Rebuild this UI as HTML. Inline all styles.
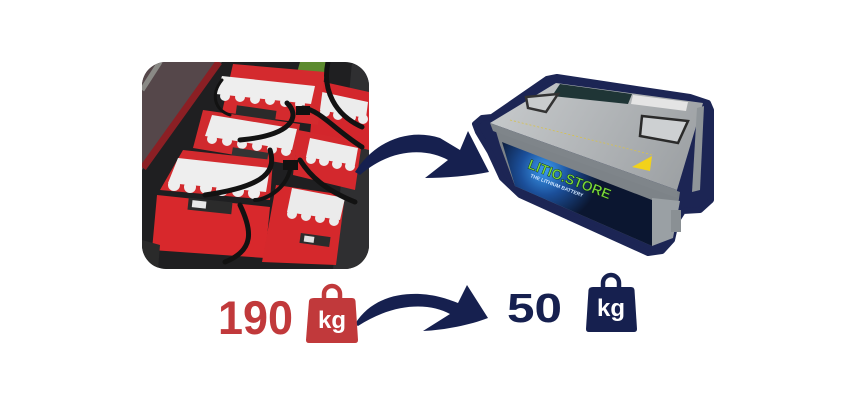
<!DOCTYPE html>
<html><head><meta charset="utf-8"><style>
html,body{margin:0;padding:0;background:#fff;}
svg{display:block;}
</style></head><body>
<svg width="850" height="400" viewBox="0 0 850 400" xmlns="http://www.w3.org/2000/svg">
<defs>
<clipPath id="c1"><rect x="142" y="62" width="227" height="207" rx="24"/></clipPath>
<radialGradient id="glow" cx="545" cy="170" r="55" gradientUnits="userSpaceOnUse">
<stop offset="0" stop-color="#3c9cf0"/><stop offset="0.45" stop-color="#1b4f9a"/><stop offset="1" stop-color="#0b1630"/>
</radialGradient>
<linearGradient id="lid" x1="520" y1="90" x2="680" y2="185" gradientUnits="userSpaceOnUse">
<stop offset="0" stop-color="#c3c6c8"/><stop offset="1" stop-color="#9da1a4"/>
</linearGradient>
</defs>
<rect width="850" height="400" fill="#fff"/>

<!-- Left photo -->
<g clip-path="url(#c1)">
<rect x="142" y="62" width="227" height="207" fill="#1f1f21"/>
<polygon points="142,62 222,62 142,170" fill="#55474a"/>
<line x1="160" y1="62" x2="142" y2="90" stroke="#8a8a86" stroke-width="5"/>
<line x1="219" y1="62" x2="143" y2="168" stroke="#8b1f24" stroke-width="7"/>
<polygon points="300,62 326,62 326,78 296,76" fill="#5c8a2e"/>
<polygon points="352,62 369,62 369,270 333,270" fill="#2f2f31"/>
<!-- battery 4 -->
<polygon points="315,80 369,92 369,150 310,135" fill="#d3262c"/>
<polygon points="322,92 368,102 366,118 319,110" fill="#ececec"/>
<g fill="#ececec"><circle cx="325" cy="112" r="5"/><circle cx="338" cy="115" r="5"/><circle cx="351" cy="117" r="5"/><circle cx="363" cy="119" r="5"/></g>
<!-- battery 1 -->
<polygon points="233,64 325,72 318,125 222,112" fill="#d42a2e"/>
<polygon points="222,76 315,86 311,104 216,94" fill="#eeeeee"/>
<g fill="#eeeeee"><circle cx="225" cy="96" r="5"/><circle cx="240" cy="97" r="5"/><circle cx="255" cy="99" r="5"/><circle cx="270" cy="100" r="5"/><circle cx="285" cy="102" r="5"/><circle cx="300" cy="104" r="5"/></g>
<rect x="236" y="108" width="40" height="10" fill="#2a2a2a" transform="rotate(8 256 113)"/>
<!-- battery 2 -->
<polygon points="203,110 300,124 294,165 193,148" fill="#d02a2e"/>
<polygon points="212,115 297,129 292,150 205,136" fill="#ededed"/>
<g fill="#ededed"><circle cx="212" cy="139" r="5"/><circle cx="227" cy="141" r="5"/><circle cx="242" cy="144" r="5"/><circle cx="257" cy="146" r="5"/><circle cx="272" cy="149" r="5"/><circle cx="286" cy="151" r="5"/></g>
<rect x="232" y="150" width="36" height="9" fill="#333" transform="rotate(9 250 154)"/>
<!-- battery 5 -->
<polygon points="298,130 362,142 355,190 293,175" fill="#d3282d"/>
<polygon points="310,138 358,148 355,165 306,157" fill="#ececec"/>
<g fill="#ececec"><circle cx="311" cy="159" r="5"/><circle cx="324" cy="161" r="5"/><circle cx="337" cy="164" r="5"/><circle cx="350" cy="166" r="5"/></g>
<!-- battery 3 -->
<polygon points="183,150 273,160 270,200 160,190" fill="#d22a2e"/>
<polygon points="178,158 270,168 266,192 168,183" fill="#eeeeee"/>
<g fill="#eeeeee"><circle cx="174" cy="185" r="6"/><circle cx="190" cy="187" r="6"/><circle cx="206" cy="188" r="6"/><circle cx="222" cy="190" r="6"/><circle cx="238" cy="191" r="6"/><circle cx="254" cy="193" r="6"/></g>
<polygon points="157,195 270,207 265,258 152,250" fill="#d8282c"/>
<rect x="188" y="200" width="44" height="12" fill="#2b2b2b" transform="rotate(6 210 206)"/>
<rect x="192" y="202" width="14" height="7" fill="#e8e8e8" transform="rotate(6 210 206)"/>
<!-- battery 6 -->
<polygon points="276,185 345,195 336,265 262,262" fill="#d5282c"/>
<polygon points="292,188 345,198 340,220 287,212" fill="#ebebeb"/>
<g fill="#ebebeb"><circle cx="292" cy="214" r="5"/><circle cx="306" cy="216" r="5"/><circle cx="320" cy="218" r="5"/><circle cx="334" cy="221" r="5"/></g>
<rect x="300" y="235" width="30" height="10" fill="#2b2b2b" transform="rotate(8 315 240)"/>
<rect x="304" y="237" width="10" height="6" fill="#e0e0e0" transform="rotate(8 315 240)"/>
<polygon points="142,240 160,245 158,270 142,270" fill="#2a2a2a"/>
<!-- cables -->
<g fill="none" stroke="#121212" stroke-width="5" stroke-linecap="round">
<path d="M287 103 C300 115 295 135 240 140"/>
<path d="M303 108 C320 110 335 130 362 147"/>
<path d="M270 150 C276 170 268 186 205 195"/>
<path d="M300 160 C310 176 325 190 355 202"/>
<path d="M240 205 C252 230 255 250 225 262"/>
<path d="M328 62 C322 90 335 115 362 127"/>
<path d="M222 80 C210 95 215 110 230 115" stroke-width="3"/>
<path d="M290 170 C285 190 265 200 255 200" stroke-width="4"/>
</g>
<rect x="296" y="106" width="14" height="9" fill="#111"/>
<rect x="283" y="160" width="15" height="10" fill="#111"/>
</g>

<!-- Right battery -->
<polygon points="557,77 690,97 708,103 711,110 711,200 700,210 683,211 676,222 672,240 662,251 648,253 520,195 502,178 490,152 478,132 475,124 482,118 492,117 547,79" fill="#1c2554" stroke="#1c2554" stroke-width="6" stroke-linejoin="round"/>
<polygon points="495,128 680,192 678,205 652,200 652,246 515,186 500,145" fill="#7d8388"/>
<polygon points="502,142 652,200 652,246 515,186" fill="url(#glow)"/>
<polygon points="652,198 680,201 673,238 652,246" fill="#9aa0a4"/>
<rect x="671" y="210" width="10" height="22" fill="#8a9094"/>
<polygon points="490,123 556,83 703,103 677,190" fill="url(#lid)"/>
<polygon points="490,123 677,190 677,198 493,131" fill="#7f858a"/>
<polygon points="697,108 704,106 700,190 692,192" fill="#8f9599"/>
<polygon points="560,84 632,94 628,104 552,96" fill="#1f3536"/>
<polygon points="633,95 688,102 686,111 631,104" fill="#e4e4e4"/>
<polygon points="526,97 558,94 546,112 528,108" fill="#c9cccd" stroke="#333" stroke-width="2.5"/>
<polygon points="642,116 688,121 678,143 640,136" fill="#cdd0d2" stroke="#2a2a2a" stroke-width="2.5"/>
<polygon points="632,167 652,156 650,171" fill="#f2d21b"/>
<polyline points="510,120 653,155" fill="none" stroke="#d7c24d" stroke-width="0.8" stroke-dasharray="2 2"/>
<text x="527" y="168" transform="rotate(21 527 168)" font-family="Liberation Sans, sans-serif" font-weight="bold" font-size="14" fill="#79d83a" stroke="#0a1a10" stroke-width="0.4">LITIO.STORE</text>
<text x="530" y="177" transform="rotate(21 530 177)" font-family="Liberation Sans, sans-serif" font-weight="bold" font-size="5" fill="#cfe6ff">THE LITHIUM BATTERY</text>

<!-- Top arrow -->
<path d="M355 172 C375 140 410 128 440 138 L460 150 L468 131 L489 172 C470 176 445 178 425 178 L448 160 C430 150 395 145 360 175 Z" fill="#16204f"/>

<!-- Bottom arrow -->
<path d="M355 324 C370 300 395 293 420 294 C438 295 450 300 458 303 L467 285 L488 318 C470 325 445 330 423 331 L450 314 C430 303 395 302 358 326 Z" fill="#16204f"/>

<!-- 190 kg -->
<text x="218" y="334" font-family="Liberation Sans, sans-serif" font-weight="bold" font-size="47" fill="#c1393b" textLength="75" lengthAdjust="spacingAndGlyphs">190</text>
<path d="M324 300 L324 294 A8 8 0 0 1 340 294 L340 300" fill="none" stroke="#c1393b" stroke-width="4.5"/>
<path d="M314 298 L352 298 Q355 298 355.5 301 L358 340 Q358 343 355 343 L309 343 Q306 343 306 340 L309 301 Q309.5 298 314 298 Z" fill="#c1393b"/>
<text x="332" y="328" text-anchor="middle" font-family="Liberation Sans, sans-serif" font-weight="bold" font-size="24" fill="#fff">kg</text>

<!-- 50 kg -->
<text x="507" y="322" font-family="Liberation Sans, sans-serif" font-weight="bold" font-size="41" fill="#16204f" textLength="55" lengthAdjust="spacingAndGlyphs">50</text>
<path d="M603 289 L603 283 A8 8 0 0 1 619 283 L619 289" fill="none" stroke="#16204f" stroke-width="4.5"/>
<path d="M593 287 L631 287 Q634 287 634.5 290 L637 329 Q637 332 634 332 L589 332 Q586 332 586 329 L588.5 290 Q589 287 593 287 Z" fill="#16204f"/>
<text x="611" y="316" text-anchor="middle" font-family="Liberation Sans, sans-serif" font-weight="bold" font-size="24" fill="#fff">kg</text>
</svg>
</body></html>
